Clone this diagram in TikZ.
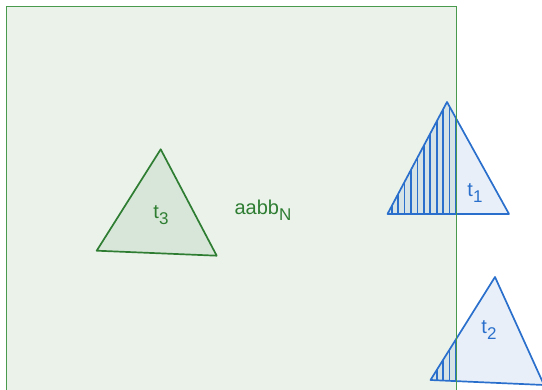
\documentclass[tikz,border=0pt]{standalone}
\usepackage{fontspec}
\setmainfont{Liberation Sans}
\definecolor{gstroke}{HTML}{4A9A4E}
\definecolor{gdark}{HTML}{2E7D32}
\definecolor{bstroke}{HTML}{2A6FCB}
\newcommand{\labsub}[1]{\raisebox{-0.6ex}{\fontsize{17}{19}\selectfont #1}}
\begin{document}
\begin{tikzpicture}[x=1pt,y=-1pt,
  boxstyle/.style={fill=gdark,fill opacity=0.1},
  gtri/.style={draw=gdark,line width=1.7pt,fill=gdark,fill opacity=0.1,draw opacity=1,line join=round},
  btri/.style={fill=bstroke,fill opacity=0.11},
  boutline/.style={draw=bstroke,line width=1.7pt,line join=round},
  hatchline/.style={draw=bstroke,line width=1.6pt},
  glabel/.style={text=gdark,font=\fontsize{20}{22}\selectfont,inner sep=0pt},
  blabel/.style={text=bstroke,font=\fontsize{20}{22}\selectfont,inner sep=0pt}]
\useasboundingbox (0,0) rectangle (542,390);
% bounding box region aabb_N
\coordinate (bl) at (6.5,400);
\coordinate (tr) at (456.5,6.5);
\path[boxstyle] (bl) rectangle (tr);
% triangle t3
\coordinate (a3) at (160.7,149.3);
\coordinate (b3) at (96.7,250.7);
\coordinate (c3) at (216.7,255.7);
\path[gtri] (a3) -- (b3) -- (c3) -- cycle;
% triangle t1
\coordinate (a1) at (447,102);
\coordinate (b1) at (387.5,214);
\coordinate (c1) at (509,214);
\path[btri] (a1) -- (b1) -- (c1) -- cycle;
% triangle t2
\coordinate (a2) at (495,277);
\coordinate (b2) at (430.5,380);
\coordinate (c2) at (544,385);
\path[btri] (a2) -- (b2) -- (c2) -- cycle;
% hatching of overlap t1
\begin{scope}
  \clip (bl) rectangle (tr);
  \clip (a1) -- (b1) -- (c1) -- cycle;
  \foreach \k in {0,...,11} \draw[hatchline] (456-6.43*\k,90) -- (456-6.43*\k,220);
\end{scope}
\begin{scope}
  \clip (bl) rectangle (tr);
  \clip (a2) -- (b2) -- (c2) -- cycle;
  \foreach \k in {0,...,5} \draw[hatchline] (456-6.43*\k,270) -- (456-6.43*\k,395);
\end{scope}
% outlines
\draw[boutline] (a1) -- (b1) -- (c1) -- cycle;
\draw[boutline] (a2) -- (b2) -- (c2) -- cycle;
\draw[draw=gstroke,line width=1.8pt] (bl) |- (tr) -- (tr |- bl);
% labels
\node[glabel] (l3) at (161,215) {t\labsub{3}};
\node[glabel] (lN) at (263,210) {aabb\labsub{N}};
\node[blabel] (l1) at (475,193) {t\labsub{1}};
\node[blabel] (l2) at (489,330) {t\labsub{2}};
\end{tikzpicture}
\end{document}
